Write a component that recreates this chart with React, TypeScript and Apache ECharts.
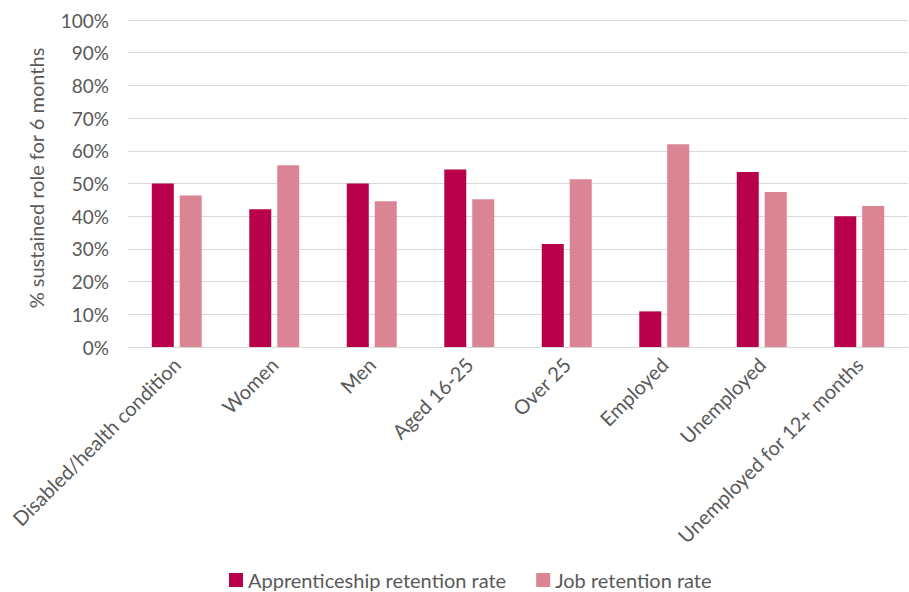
import React, { useEffect, useRef } from "react";
import * as echarts from "echarts";

const categories = [
  "Disabled/health condition",
  "Women",
  "Men",
  "Aged 16-25",
  "Over 25",
  "Employed",
  "Unemployed",
  "Unemployed for 12+ months",
];
const apprenticeship = [50.0, 42.1, 50.0, 54.3, 31.5, 10.9, 53.5, 40.0];
const jobRetention = [46.3, 55.6, 44.6, 45.2, 51.3, 62.0, 47.4, 43.1];
const seriesNames = ["Apprenticeship retention rate", "Job retention rate"];
const yAxisTitle = "% sustained role for 6 months";

export default function App() {
  const ref = useRef<HTMLDivElement>(null);
  useEffect(() => {
    if (!ref.current) return;
    const chart = echarts.init(ref.current, undefined, { renderer: "svg" });
    const font = "Lato, 'Open Sans', sans-serif";
    chart.setOption({
      animation: false,
      textStyle: { fontFamily: font },
      grid: { left: 128, right: 1, top: 20, bottom: 245, containLabel: false },
      legend: {
        left: 224,
        top: 565,
        itemWidth: 14,
        itemHeight: 14,
        itemGap: 30,
        icon: "rect",
        textStyle: { fontSize: 20, color: "#595959", fontFamily: font },
        data: seriesNames,
      },
      graphic: [
        {
          type: "text",
          x: 36,
          y: 178,
          rotation: Math.PI / 2,
          style: {
            text: yAxisTitle,
            fontSize: 20,
            fill: "#595959",
            fontFamily: font,
            align: "center",
            verticalAlign: "middle",
          },
          originX: 0,
          originY: 0,
        },
      ],
      xAxis: {
        type: "category",
        data: categories,
        axisLine: { show: true, lineStyle: { color: "#d9d9d9", width: 1 } },
        axisTick: { show: false },
        axisLabel: {
          rotate: 45,
          interval: 0,
          fontSize: 20,
          color: "#595959",
          fontFamily: font,
          margin: 14,
        },
      },
      yAxis: {
        type: "value",
        min: 0,
        max: 100,
        interval: 10,
        axisLine: { show: false },
        axisTick: { show: false },
        splitLine: { lineStyle: { color: "#d9d9d9", width: 1 } },
        axisLabel: {
          formatter: "{value}%",
          fontSize: 19,
          color: "#595959",
          fontFamily: font,
          margin: 19,
        },
      },
      series: [
        {
          name: seriesNames[0],
          type: "bar",
          data: apprenticeship,
          barWidth: 22,
          barGap: "27%",
          itemStyle: { color: "#B8004B" },
        },
        {
          name: seriesNames[1],
          type: "bar",
          data: jobRetention,
          barWidth: 22,
          itemStyle: { color: "#DB8494" },
        },
      ],
    });
    return () => chart.dispose();
  }, []);
  return (
    <div
      ref={ref}
      style={{ position: "fixed", left: 0, top: 0, width: 909, height: 592, background: "#fff" }}
    />
  );
}
